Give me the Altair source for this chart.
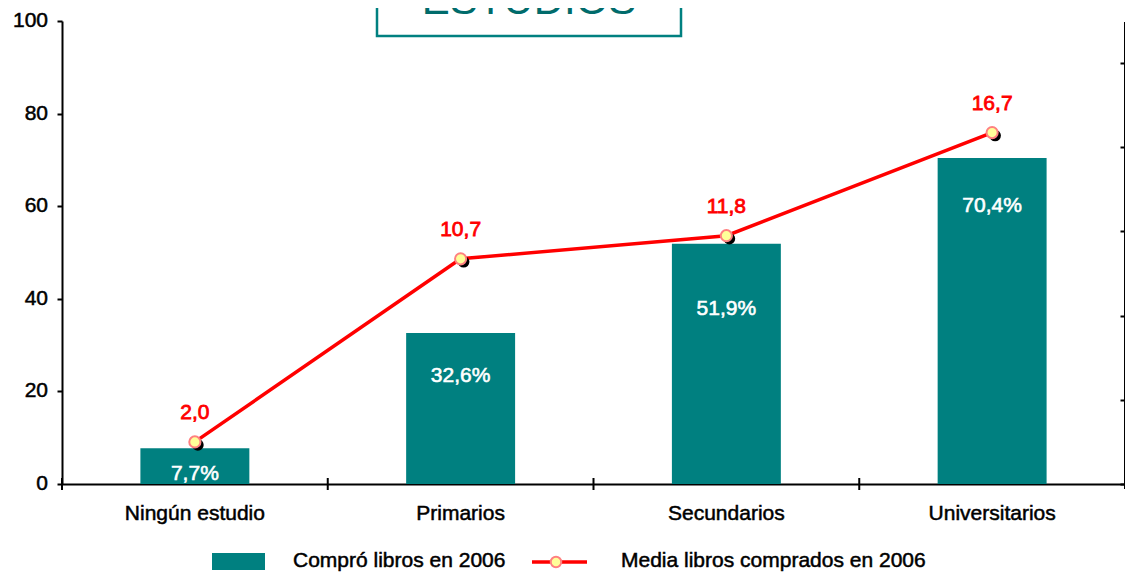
import altair as alt
import pandas as pd

categories = ["Ningún estudio", "Primarios", "Secundarios", "Universitarios"]
compro_pct = [7.7, 32.6, 51.9, 70.4]
media_libros = [2.0, 10.7, 11.8, 16.7]
left_ticks = [0, 20, 40, 60, 80, 100]
right_ticks = [0, 4, 8, 12, 16, 20]

title_text = "ESTUDIOS"
legend_bar = "Compró libros en 2006"
legend_line = "Media libros comprados en 2006"

df = pd.DataFrame({
    "cat": categories,
    "pct": compro_pct,
    "media": media_libros,
})
df["pct_label"] = [f"{v:.1f}".replace(".", ",") + "%" for v in compro_pct]
df["media_label"] = [f"{v:.1f}".replace(".", ",") for v in media_libros]
ticks_df = pd.DataFrame({"pct": left_ticks, "lab": [str(t) for t in left_ticks]})

FONT = "Liberation Sans"
TEAL = "#008080"
W, H = 1063, 463
SW = 0.6  # text stroke for a medium weight look

xs = alt.X("cat:N", sort=categories)

x_enc = alt.X("cat:N", sort=categories, title=None,
              scale=alt.Scale(paddingInner=0, paddingOuter=0),
              axis=alt.Axis(labels=False, ticks=False, domainColor="black",
                            domainWidth=2, grid=False))

y_left = alt.Y("pct:Q", title=None,
               scale=alt.Scale(domain=[0, 100], nice=False),
               axis=alt.Axis(values=left_ticks, labels=False, tickSize=5,
                             tickColor="black", tickWidth=2,
                             domainColor="black", domainWidth=2,
                             grid=False, orient="left"))

base = alt.Chart(df)

bars = base.mark_bar(color=TEAL, width=alt.RelativeBandSize(0.41)).encode(
    x=x_enc, y=y_left)

# category boundary ticks crossing the x axis
x_ticks = base.mark_rule(color="black", strokeWidth=2).encode(
    x=alt.X("cat:N", sort=categories, bandPosition=0),
    y=alt.value(H - 6), y2=alt.value(H + 6))

bar_label_dy = [26, 43, 65, 48]
bar_texts = []
for c, d in zip(categories, bar_label_dy):
    bar_texts.append(
        base.transform_filter(alt.datum.cat == c).mark_text(
            color="white", stroke="white", strokeWidth=SW, font=FONT,
            fontSize=21, baseline="middle", dy=d
        ).encode(x=xs, y=alt.Y("pct:Q"), text="pct_label:N")
    )

cat_labels = base.mark_text(color="black", stroke="black", strokeWidth=0.5,
                            font=FONT, fontSize=21, baseline="middle").encode(
    x=xs, y=alt.value(H + 30), text="cat:N")

tick_labels = alt.Chart(ticks_df).mark_text(
    color="black", stroke="black", strokeWidth=0.5, font=FONT, fontSize=21,
    align="right", baseline="middle").encode(
    x=alt.value(-14), y=alt.Y("pct:Q"), text="lab:N")

left_group = alt.layer(bars, x_ticks, *bar_texts, cat_labels, tick_labels)

y_right = alt.Y("media:Q", title=None,
                scale=alt.Scale(domain=[0, 22], nice=False),
                axis=alt.Axis(values=right_ticks, labels=False, tickSize=5,
                              tickColor="black", tickWidth=2, domain=False,
                              grid=False, orient="right", offset=-5))

line = base.mark_line(color="#ff0000", strokeWidth=3.5).encode(x=xs, y=y_right)
shadow = base.mark_circle(color="black", opacity=1, size=135, xOffset=3,
                          yOffset=3).encode(x=xs, y=alt.Y("media:Q"))
pts = base.mark_point(filled=True, fill="#ffff99", stroke="#ff8080",
                      strokeWidth=2, size=125, opacity=1, shape="circle").encode(
    x=xs, y=alt.Y("media:Q"))
media_txt = base.mark_text(color="#ff0000", stroke="#ff0000", strokeWidth=0.8,
                           font=FONT, fontSize=21, baseline="middle",
                           dy=-29).encode(
    x=xs, y=alt.Y("media:Q"), text="media_label:N")

right_group = alt.layer(line, shadow, pts, media_txt)

# decorations: right axis line, title box, legend
one = pd.DataFrame({"k": [0]})
deco = alt.Chart(one)
right_line = deco.mark_rule(color="black", strokeWidth=2).encode(
    x=alt.value(W), y=alt.value(1), y2=alt.value(H + 5))
title_box = deco.mark_rect(fill="white", stroke=TEAL, strokeWidth=2.5).encode(
    x=alt.value(315), x2=alt.value(619), y=alt.value(-60), y2=alt.value(15))
title_txt = deco.mark_text(text=title_text, font=FONT, fontSize=42,
                           color="#006b6b", align="center",
                           baseline="alphabetic").encode(
    x=alt.value(467), y=alt.value(-7))
leg_rect = deco.mark_rect(color=TEAL).encode(
    x=alt.value(150), x2=alt.value(203), y=alt.value(532), y2=alt.value(549))
leg_t1 = deco.mark_text(text=legend_bar, font=FONT, fontSize=21, color="black",
                        stroke="black", strokeWidth=0.5,
                        align="left", baseline="middle").encode(
    x=alt.value(231), y=alt.value(540))
leg_line = deco.mark_rule(color="#ff0000", strokeWidth=3.5).encode(
    x=alt.value(470), x2=alt.value(525), y=alt.value(541))
leg_pt = deco.mark_point(filled=True, fill="#ffff99", stroke="#ff8080",
                         strokeWidth=2, size=110, opacity=1,
                         shape="circle").encode(
    x=alt.value(494), y=alt.value(541))
leg_t2 = deco.mark_text(text=legend_line, font=FONT, fontSize=21, color="black",
                        stroke="black", strokeWidth=0.5,
                        align="left", baseline="middle").encode(
    x=alt.value(559), y=alt.value(540))

chart = alt.layer(
    left_group, right_group, right_line, title_box, title_txt,
    leg_rect, leg_t1, leg_line, leg_pt, leg_t2
).resolve_scale(y="independent").properties(
    width=W, height=H,
    background="white",
    padding={"left": 54, "top": 13, "right": 0, "bottom": 94},
    autosize=alt.AutoSizeParams(type="none"),
).configure_view(strokeWidth=0, stroke="white").configure_axis(
    gridColor="transparent"
).configure_axisTop(
    domain=False, ticks=False, labels=False, domainOpacity=0, tickOpacity=0
)

chart.save("out.html", embed_options={"renderer": "svg", "actions": False})
